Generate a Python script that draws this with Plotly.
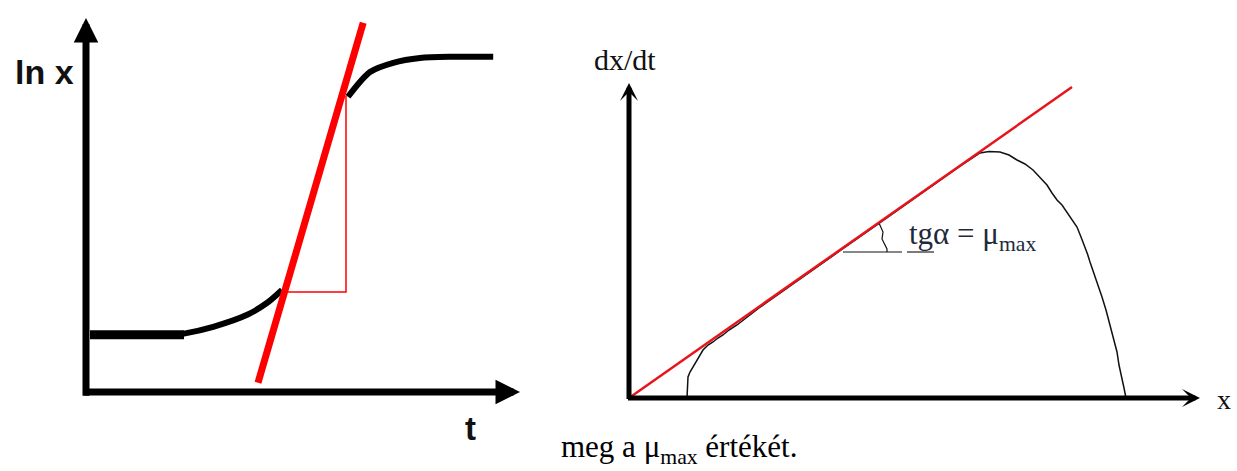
import plotly.graph_objects as go

# ---------------- left panel: ln x versus t ----------------
# lag phase (thick flat part) and start of the exponential rise
lag_t = [0.1, 0.8, 1.6, 2.45]
lag_lnx = [1.43, 1.43, 1.43, 1.43]
rise_t = [2.3, 2.45, 3.18, 4.03, 4.53, 4.9]
rise_lnx = [1.44, 1.46, 1.63, 1.93, 2.23, 2.55]
# deceleration and stationary phase
stat_t = [6.55, 7.1, 7.68, 8.35, 9.18, 10.18]
stat_lnx = [7.38, 8.0, 8.23, 8.35, 8.38, 8.38]
# tangent of the exponential phase
tan_t = [4.3, 6.93]
tan_lnx = [0.23, 9.23]
# slope triangle
tri_t = [5.0, 6.5, 6.5]
tri_lnx = [2.5, 2.5, 7.4]
left_t_max = 10.85
left_lnx_max = 9.35

# ---------------- right panel: dx/dt versus x ----------------
rate_x = [1.16, 1.17, 1.18, 1.22, 1.3, 1.36, 1.42, 1.48, 1.58, 1.68, 1.78, 1.88,
          2.0, 2.16, 2.6, 3.4, 4.2, 5.0, 5.8, 6.6, 7.02, 7.2, 7.42, 7.6, 7.76,
          7.92, 8.08, 8.22, 8.36, 8.46, 8.56, 8.66, 8.76, 8.86, 8.96, 9.04,
          9.12, 9.17, 9.22, 9.3, 9.38, 9.46, 9.54, 9.6, 9.66, 9.7, 9.76, 9.8,
          9.86, 9.9, 9.94]
rate_dxdt = [0.0, 0.2, 0.42, 0.52, 0.66, 0.76, 0.86, 0.96, 1.06, 1.12, 1.2, 1.26,
             1.36, 1.46, 1.8, 2.37, 2.93, 3.49, 4.06, 4.62, 4.9, 4.93, 4.92, 4.86,
             4.76, 4.68, 4.56, 4.42, 4.26, 4.1, 3.96, 3.86, 3.72, 3.56, 3.42, 3.22,
             3.02, 2.88, 2.72, 2.5, 2.26, 2.02, 1.76, 1.52, 1.26, 1.1, 0.92, 0.66,
             0.42, 0.2, 0.0]
slope_x = [0.0, 8.86]
slope_dxdt = [0.0, 6.22]
angle_x = [5.0, 5.08, 5.06, 5.12, 5.16, 5.16]
angle_dxdt = [3.5, 3.32, 3.18, 3.06, 2.98, 2.92]
base_x = [4.28, 5.46]
base_dxdt = [2.92, 2.92]
under_x = [5.56, 6.1]
under_dxdt = [2.92, 2.92]
right_x_max = 11.42
right_dxdt_max = 6.3

RED = "#ff0000"
INK = "#000000"

fig = go.Figure()

def line(x, y, color, width, axes, shape="linear"):
    xa, ya = axes
    fig.add_trace(go.Scatter(x=x, y=y, mode="lines", xaxis=xa, yaxis=ya,
                             line=dict(color=color, width=width, shape=shape,
                                       smoothing=0.8),
                             hoverinfo="skip", showlegend=False))

L = ("x", "y")
R = ("x2", "y2")

line(lag_t, lag_lnx, INK, 9, L)
line(rise_t, rise_lnx, INK, 6, L, "spline")
line(stat_t, stat_lnx, INK, 6, L, "spline")
line(tri_t, tri_lnx, RED, 1.5, L)
line(tan_t, tan_lnx, RED, 7, L)

line(rate_x, rate_dxdt, "#111111", 1.5, R)
line(angle_x, angle_dxdt, "#111111", 1.2, R)
line(base_x, base_dxdt, "#111111", 1.2, R)
line(under_x, under_dxdt, "#222222", 1.2, R)
line(slope_x, slope_dxdt, "#e8141c", 2.5, R)

annotations = []

def axis_arrow(x0, y0, x1, y1, axes, width, head, size):
    xa, ya = axes
    annotations.append(dict(x=x1, y=y1, ax=x0, ay=y0, xref=xa, yref=ya,
                            axref=xa, ayref=ya, text="", showarrow=True,
                            arrowhead=head, arrowsize=size, arrowwidth=width,
                            arrowcolor=INK))

axis_arrow(-0.08, 0, left_t_max, 0, L, 7, 2, 0.7)
axis_arrow(0, -0.13, 0, left_lnx_max, L, 7, 2, 0.7)
axis_arrow(-0.05, 0, right_x_max, 0, R, 5, 3, 0.6)
axis_arrow(0, -0.05, 0, right_dxdt_max, R, 5, 3, 0.6)

sans = "Liberation Sans"
serif = "Liberation Serif"

annotations += [
    dict(x=-1.05, y=8.0, xref="x", yref="y", text="<b>ln x</b>", showarrow=False,
         font=dict(family=sans, size=34, color="#111111")),
    dict(x=9.6, y=-0.9, xref="x", yref="y", text="<b>t</b>", showarrow=False,
         font=dict(family=sans, size=33, color="#111111")),
    dict(x=-0.08, y=6.78, xref="x2", yref="y2", text="dx/dt", showarrow=False,
         font=dict(family=serif, size=30, color="#111111")),
    dict(x=11.9, y=-0.02, xref="x2", yref="y2", text="x", showarrow=False,
         font=dict(family=serif, size=28, color="#111111")),
    dict(x=5.56, y=3.24, xref="x2", yref="y2", xanchor="left",
         text="tgα = μ<sub>max</sub>", showarrow=False,
         font=dict(family=serif, size=31, color="#1e2a3a")),
    dict(x=679 / 1237, y=-0.001, xref="paper", yref="paper",
         text="meg a μ<sub>max</sub> értékét.", showarrow=False,
         font=dict(family=serif, size=31, color="#000000")),
]

hidden = dict(visible=False, fixedrange=True)
fig.update_layout(
    width=1237, height=471,
    margin=dict(l=0, r=0, t=0, b=0),
    paper_bgcolor="white", plot_bgcolor="white",
    xaxis=dict(domain=[0, 1], range=[-2.15, 28.775], **hidden),
    yaxis=dict(domain=[0, 1], range=[-1.975, 9.8], **hidden),
    xaxis2=dict(domain=[0, 1], range=[-12.58, 12.16], overlaying="x", **hidden),
    yaxis2=dict(domain=[0, 1], range=[-1.46, 7.96], overlaying="y", **hidden),
    annotations=annotations,
    showlegend=False,
)

fig.write_html("out.html", config=dict(displayModeBar=False))
